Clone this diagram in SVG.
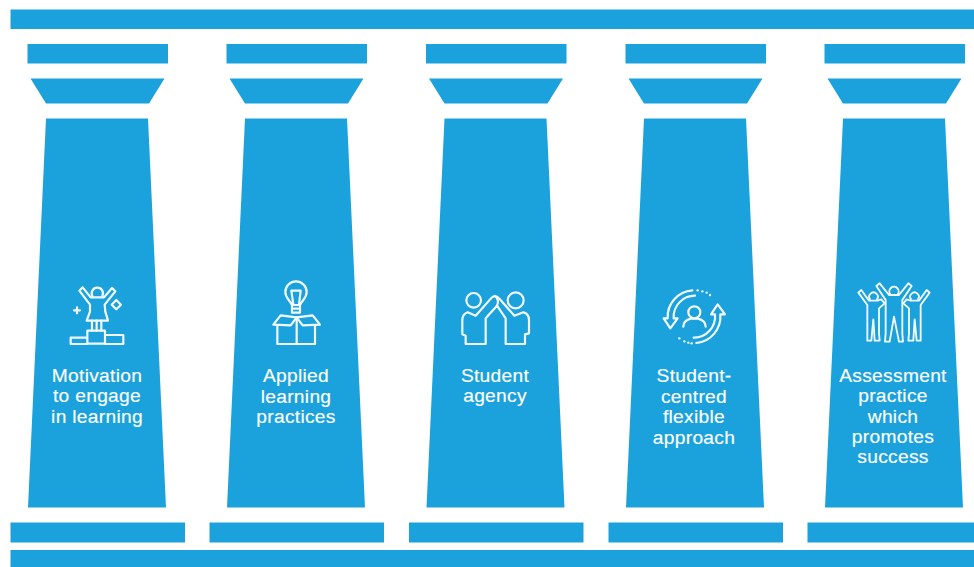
<svg xmlns="http://www.w3.org/2000/svg" width="974" height="567" viewBox="0 0 974 567">
<style>
.b{fill:#1ba2dd}
.t{fill:#fff;stroke:#fff;stroke-width:.15px;letter-spacing:.3px;font:19.2px "Liberation Sans",Arial,sans-serif;text-anchor:middle}
.i{fill:none;stroke:#f4fbff;stroke-width:6.5;stroke-linejoin:round;stroke-linecap:round}
.d{fill:#f4fbff}
</style>
<defs>
<g id="col">
<rect class="b" x="27.5" y="44" width="140.5" height="19.5"/>
<path class="b" d="M30.5 78.5H164.500L149 103.500H46Z"/>
<path class="b" d="M46 118.500H148L166 507.500H28Z"/>
<rect class="b" x="10.5" y="522.500" width="174.500" height="20"/>
</g>
</defs>
<rect width="974" height="567" fill="#fff"/>
<g id="frame">
<rect class="b" x="10.5" y="9.5" width="963.500" height="19.5"/>
<rect class="b" x="10.5" y="550" width="963.500" height="17"/>
</g>
<g id="pillar-motivation">
<use href="#col"/>
<g class="i" transform="translate(40 270) scale(.3333)">
<path d="M157 78A17 17 0 1 1 187 78"/>
<path d="M118 62L128 52L152 82H192L216 54L226 64L194 104L196 125L204 152H140L150 125V104Z"/>
<path d="M156 152V182M170 152V182M184 152V182"/>
<path d="M142 182H195V221H142ZM142 203H92V222H142M195 195H250V222H195"/>
<path d="M111 112V130M102 121H120"/>
<path d="M229 90L243 104L229 118L215 104Z"/>
</g>
<text class="t" x="97" y="381.500">Motivation</text>
<text class="t" x="97" y="402">to engage</text>
<text class="t" x="97" y="422.500">in learning</text>
</g>
<g id="pillar-applied">
<use href="#col" x="199"/>
<g class="i" transform="translate(250 270) scale(.3333)">
<path d="M126 105C120 90 106 85 106 66A32 32 0 0 1 170 66C170 85 156 90 150 105Z"/>
<path d="M130 103L124 62H152L147 103"/>
<path d="M126 105V128H150V105M126 116H150"/>
<path d="M82 165V222H195V165M140 142V222"/>
<path d="M140 142L92 136L70 164L122 166ZM140 142L188 136L210 164L158 166Z"/>
</g>
<text class="t" x="296" y="382">Applied</text>
<text class="t" x="296" y="402.500">learning</text>
<text class="t" x="296" y="423">practices</text>
</g>
<g id="pillar-agency">
<use href="#col" x="398.500"/>
<g class="i" transform="translate(445 275) scale(.3333)">
<circle cx="86" cy="76" r="22"/>
<circle cx="212" cy="76" r="24"/>
<path d="M92 122L68 112Q52 118 52 135V178L62 182V207H122V130L156 92L182 130V207H240V178L252 175V135Q252 116 235 112L208 122L164 72Q150 56 138 70Z"/>
<path d="M150 63Q164 74 156 92"/>
</g>
<text class="t" x="495" y="381.500">Student</text>
<text class="t" x="495" y="402">agency</text>
</g>
<g id="pillar-flexible">
<use href="#col" x="598"/>
<g class="i" transform="translate(645 275) scale(.3333)">
<circle cx="148" cy="112" r="18"/>
<path d="M115 155Q115 136 138 131H158Q182 136 182 155"/>
<path d="M142 46A80 80 0 0 0 68 130H56L76 160L98 130H86A64 64 0 0 1 150 62"/>
<path d="M154 204A80 80 0 0 0 226 118H240L218 88L198 118H210A64 64 0 0 1 146 188"/>
</g>
<g class="d" transform="translate(645 275) scale(.3333)">
<circle cx="158" cy="46" r="3.500"/><circle cx="172" cy="49" r="3.500"/><circle cx="185" cy="53" r="3.500"/><circle cx="195" cy="60" r="3.500"/>
<circle cx="103" cy="190" r="3.500"/><circle cx="118" cy="199" r="3.500"/><circle cx="130" cy="203" r="3.500"/><circle cx="140" cy="205" r="3.500"/>
</g>
<text class="t" x="694" y="382">Student-</text>
<text class="t" x="694" y="402.500">centred</text>
<text class="t" x="694" y="423">flexible</text>
<text class="t" x="694" y="443.500">approach</text>
</g>
<g id="pillar-assessment">
<use href="#col" x="797"/>
<g class="i" transform="translate(844 270) scale(.3333)" style="stroke-width:5.500">
<path d="M139 73A14 14 0 1 1 161 73"/>
<path d="M97 48L107 40L135 75H165L193 40L203 48L175 90V190L177 215H165L150 140L137 215H123L125 190V90Z"/>
<path d="M78 88A13 13 0 1 1 99 88"/>
<path d="M43 68L52 60L75 92H100L112 88L122 100L105 115V190L107 212H92L88 148L82 212H70V105Z"/>
<path d="M201 88A13 13 0 1 1 222 88"/>
<path d="M257 68L248 60L225 92H200L188 88L178 100L195 115V190L193 212H208L212 148L218 212H230V105Z"/>
</g>
<text class="t" x="893" y="381.500">Assessment</text>
<text class="t" x="893" y="402">practice</text>
<text class="t" x="893" y="422.500">which</text>
<text class="t" x="893" y="442.500">promotes</text>
<text class="t" x="893" y="463">success</text>
</g>
</svg>
